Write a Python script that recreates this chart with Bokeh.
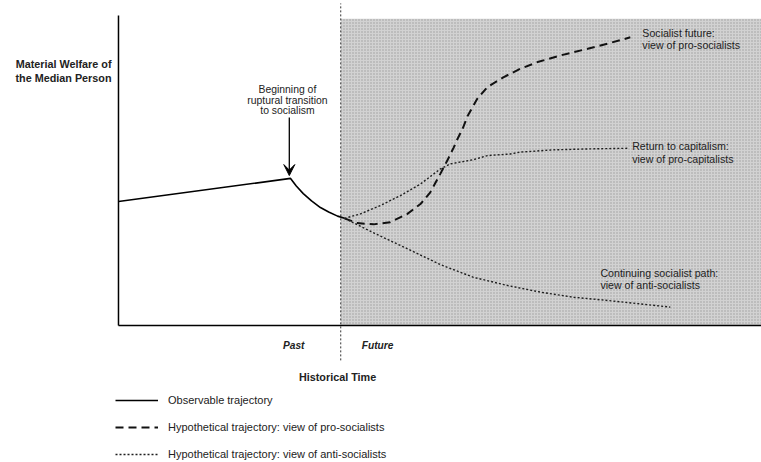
from bokeh.plotting import figure
from bokeh.models import Range1d, Label, Legend, LegendItem, Arrow, VeeHead
from bokeh.embed import file_html
from bokeh.resources import INLINE

# ---- data (historical time on x, material welfare on y; axes cross at 0,0) ----
obs_x = [0, 27.1, 28.0, 29.1, 30.4, 31.8, 33.1, 34.5, 35.6]
obs_y = [39.1, 46.4, 44.0, 41.6, 39.3, 37.2, 35.8, 34.5, 33.8]

procap_x = [35.6, 38.1, 41.3, 44.4, 47.6, 50.7, 52.3, 55.9, 58.1, 61.7, 63.3, 68.5, 73.9, 80.2]
procap_y = [33.8, 35.2, 37.9, 41.0, 44.7, 49.4, 51.0, 52.3, 53.6, 54.1, 54.7, 55.4, 55.7, 55.9]

prosoc_x = [35.6, 37.6, 40.2, 42.8, 45.5, 47.6, 49.1, 50.7, 51.8, 52.8, 53.4, 54.2, 55.0,
            56.5, 58.1, 60.6, 63.3, 66.0, 69.6, 73.9, 77.0, 80.6]
prosoc_y = [33.8, 32.3, 31.9, 32.6, 35.2, 38.4, 42.0, 47.9, 52.1, 56.2, 58.9, 62.1, 66.2,
            71.5, 75.2, 78.3, 81.0, 83.1, 85.2, 87.3, 88.9, 90.9]

antisoc_x = [35.6, 40.2, 45.5, 50.7, 55.9, 61.3, 66.5, 71.7, 77.0, 82.2, 86.9]
antisoc_y = [33.8, 29.2, 24.2, 19.2, 15.2, 12.6, 10.5, 8.9, 7.9, 6.8, 5.8]

divide_x = 35
tick_pos = [27.6, 40.8]
tick_labels = ["Past", "Future"]
y_label = ["Material Welfare of", "the Median Person"]
x_label = "Historical Time"
note = ["Beginning of", "ruptural transition", "to socialism"]
right_notes = [
    ("Socialist future:", "view of pro-socialists"),
    ("Return to capitalism:", "view of pro-capitalists"),
    ("Continuing socialist path:", "view of anti-socialists"),
]
legend_labels = ["Observable trajectory",
                 "Hypothetical trajectory: view of pro-socialists",
                 "Hypothetical trajectory: view of anti-socialists"]

FONT = "Liberation Sans"
TXT = "#222222"

X0, X1 = -18.58, 101.26
Y0, Y1 = -43.22, 102.52
Y_AXIS_TOP = 97.8
SHADE_TOP = 96.8

p = figure(width=761, height=462, output_backend="svg", toolbar_location=None,
           x_range=Range1d(X0, X1), y_range=Range1d(Y0, Y1),
           x_axis_location=None, y_axis_location=None,
           min_border_left=0, min_border_right=0, min_border_top=0,
           min_border_bottom=0)
p.outline_line_color = None
p.grid.visible = False
p.background_fill_color = "white"

# shaded "future" region
p.quad(left=[divide_x], right=[X1], bottom=[0], top=[SHADE_TOP],
       fill_color="#d2d2d2", line_color=None,
       hatch_pattern=".", hatch_color="#9c9c9c", hatch_scale=3, hatch_weight=1,
       level="underlay")

# axes lines
p.segment(x0=[0, 0], y0=[0, 0], x1=[X1, 0], y1=[0, Y_AXIS_TOP],
          line_color="black", line_width=1.5)

# past/future divider
p.segment(x0=[divide_x], y0=[-11], x1=[divide_x], y1=[101.6],
          line_color="#333333", line_width=1, line_dash="2 2")

# trajectories
r_obs = p.line(obs_x, obs_y, line_color="black", line_width=1.6)
r_cap = p.line(procap_x, procap_y, line_color="#1e1e1e", line_width=1.4, line_dash="2 2")
r_soc = p.line(prosoc_x, prosoc_y, line_color="#111111", line_width=2, line_dash="8 5")
r_anti = p.line(antisoc_x, antisoc_y, line_color="#1e1e1e", line_width=1.4, line_dash="2 2")

# arrow annotation
p.add_layout(Arrow(end=VeeHead(size=11, fill_color="black", line_color="black"),
                   x_start=26.9, y_start=65.6, x_end=26.9, y_end=47.3,
                   line_color="black", line_width=1.3))
for i, t in enumerate(note):
    p.add_layout(Label(x=26.6, y=74.4 - i * 3.3, text=t, text_align="center",
                       text_baseline="middle", text_font=FONT,
                       text_font_size="10.4px", text_color=TXT))

# y label
for i, t in enumerate(y_label):
    p.add_layout(Label(x=-1.1, y=82.6 - i * 4.6, text=t, text_align="right",
                       text_baseline="middle", text_font=FONT, text_font_style="bold",
                       text_font_size="10.8px", text_color=TXT))

# right-hand notes
note_pos = [(82.5, 92.4), (80.9, 56.5), (75.9, 16.7)]
for (x0, y0), (a, b) in zip(note_pos, right_notes):
    for i, t in enumerate((a, b)):
        p.add_layout(Label(x=x0, y=y0 - i * 3.9, text=t, text_align="left",
                           text_baseline="middle", text_font=FONT,
                           text_font_size="10.6px", text_color=TXT))

# tick labels Past / Future
for xt, t in zip(tick_pos, tick_labels):
    p.add_layout(Label(x=xt, y=-6.3, text=t, text_align="center",
                       text_baseline="middle", text_font=FONT,
                       text_font_style="bold italic",
                       text_font_size="10.2px", text_color=TXT))

# x label
p.add_layout(Label(x=34.5, y=-16.4, text=x_label, text_align="center",
                   text_baseline="middle", text_font=FONT, text_font_style="bold",
                   text_font_size="10.8px", text_color=TXT))

legend = Legend(items=[LegendItem(label=legend_labels[0], renderers=[r_obs]),
                       LegendItem(label=legend_labels[1], renderers=[r_soc]),
                       LegendItem(label=legend_labels[2], renderers=[r_anti])],
                location=(115, 1), orientation="vertical",
                border_line_color=None, background_fill_alpha=0,
                padding=0, margin=0, spacing=13, glyph_width=43, glyph_height=14,
                label_height=14, label_standoff=10, label_text_font=FONT,
                label_text_font_size="11px", label_text_color=TXT)
p.add_layout(legend)

open("out.html", "w").write(file_html(p, INLINE))
